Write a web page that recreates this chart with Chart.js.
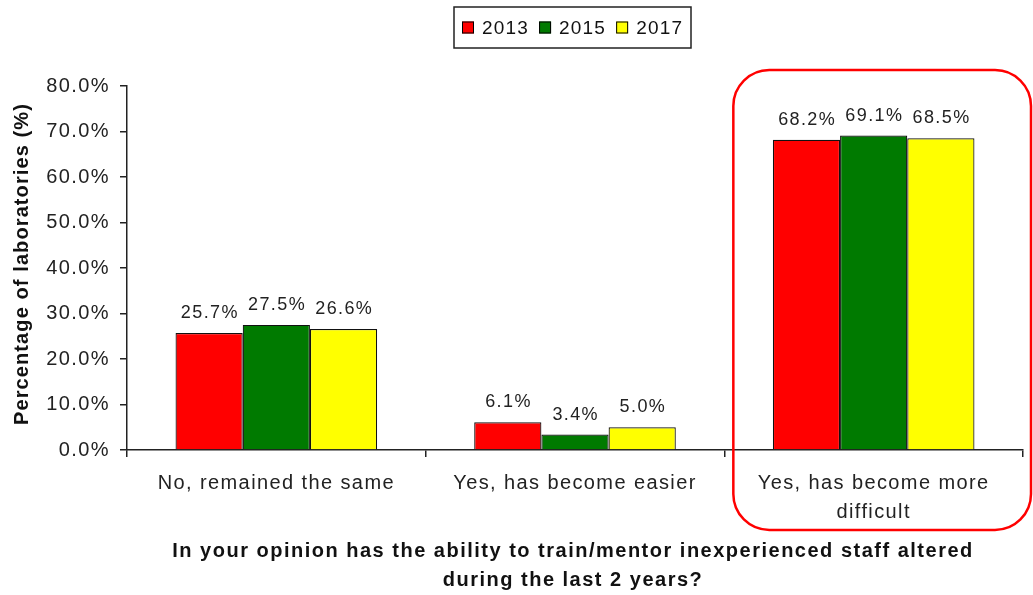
<!DOCTYPE html>
<html>
<head>
<meta charset="utf-8">
<script src="https://cdn.jsdelivr.net/npm/chart.js@4/dist/chart.umd.min.js"></script>
<style>
  html, body { margin: 0; padding: 0; background: #fff; }
  #wrap { width: 1033px; height: 595px; position: relative; }
</style>
</head>
<body>
<div id="wrap"><canvas id="c" width="1033" height="595"></canvas></div>
<script>
// Survey answers and yearly shares (percent of laboratories)
const categories = [
  "No, remained the same",
  "Yes, has become easier",
  ["Yes, has become more", "difficult"]
];
const years = ["2013", "2015", "2017"];
const values2013 = [25.7, 6.1, 68.2];
const values2015 = [27.5, 3.4, 69.1];
const values2017 = [26.6, 5.0, 68.5];
const seriesColors = ["#ff0000", "#007a00", "#ffff00"];
const yTitle = "Percentage of laboratories (%)";
const xTitleLines = [
  "In your opinion has the ability to train/mentor inexperienced staff altered",
  "during the last 2 years?"
];
const highlightIndex = 2;

const FONT = "Arial, 'Liberation Sans', sans-serif";
const AXIS_SPACING = "1.4px";

// Wide letter spacing for the axis tick text drawn by Chart.js
const spacing = {
  id: "spacing",
  beforeUpdate(chart) { chart.ctx.letterSpacing = AXIS_SPACING; },
  beforeDraw(chart) { chart.ctx.letterSpacing = AXIS_SPACING; }
};

// Value labels above each bar
const valueLabels = {
  id: "valueLabels",
  afterDatasetsDraw(chart) {
    const ctx = chart.ctx;
    ctx.save();
    ctx.letterSpacing = "1.4px";
    ctx.font = "18px " + FONT;
    ctx.fillStyle = "#222";
    ctx.textAlign = "center";
    ctx.textBaseline = "alphabetic";
    chart.data.datasets.forEach((ds, i) => {
      chart.getDatasetMeta(i).data.forEach((bar, j) => {
        ctx.fillText(ds.data[j].toFixed(1) + "%", bar.x + 0.7, bar.y - 15);
      });
    });
    ctx.restore();
  }
};

// Boxed legend, axis titles and the rounded highlight frame
const decorations = {
  id: "decorations",
  afterDraw(chart) {
    const ctx = chart.ctx;
    ctx.save();

    // legend
    ctx.letterSpacing = "1.2px";
    ctx.font = "19px " + FONT;
    ctx.textBaseline = "middle";
    ctx.textAlign = "left";
    const lx = 454, ly = 7, lw = 237, lh = 41;
    ctx.fillStyle = "#fff";
    ctx.fillRect(lx, ly, lw, lh);
    ctx.strokeStyle = "#222";
    ctx.lineWidth = 1.5;
    ctx.strokeRect(lx, ly, lw, lh);
    let x = lx + 8;
    const cy = ly + lh / 2;
    chart.data.datasets.forEach(ds => {
      ctx.fillStyle = ds.backgroundColor;
      ctx.fillRect(x, cy - 6, 12, 12);
      ctx.strokeStyle = "#000";
      ctx.lineWidth = 1;
      ctx.strokeRect(x + 0.5, cy - 5.5, 11, 11);
      ctx.fillStyle = "#111";
      ctx.fillText(ds.label, x + 20, cy + 1);
      x += 20 + ctx.measureText(ds.label).width + 10;
    });

    // y axis title
    ctx.letterSpacing = "1.1px";
    ctx.font = "bold 20px " + FONT;
    ctx.fillStyle = "#111";
    ctx.textAlign = "center";
    ctx.textBaseline = "middle";
    ctx.save();
    ctx.translate(22, 264);
    ctx.rotate(-Math.PI / 2);
    ctx.fillText(yTitle, 0, 0);
    ctx.restore();

    // x axis title
    ctx.letterSpacing = "1.5px";
    const cx = 573;
    ctx.fillText(xTitleLines[0], cx, 551);
    ctx.fillText(xTitleLines[1], cx, 580);

    // rounded frame around the highlighted category
    const xs = chart.scales.x;
    const step = (xs.right - xs.left) / categories.length;
    const fx = xs.left + step * highlightIndex + 9;
    const fy = 70, fw = 1031 - fx, fh = 460, r = 36;
    ctx.strokeStyle = "#ff0000";
    ctx.lineWidth = 2.5;
    ctx.beginPath();
    ctx.roundRect(fx, fy, fw, fh, r);
    ctx.stroke();

    ctx.restore();
  }
};

const datasets = [values2013, values2015, values2017].map((vals, i) => ({
  label: years[i],
  data: vals,
  backgroundColor: seriesColors[i],
  borderColor: "#111",
  borderWidth: 1.2,
  categoryPercentage: 0.675,
  barPercentage: 1.0
}));

new Chart(document.getElementById("c"), {
  type: "bar",
  data: { labels: categories, datasets },
  options: {
    responsive: false,
    animation: false,
    devicePixelRatio: 1,
    layout: { padding: { left: 0, top: 86, right: 10, bottom: 0 } },
    plugins: { legend: { display: false }, tooltip: { enabled: false } },
    scales: {
      y: {
        min: 0,
        max: 80,
        ticks: {
          stepSize: 10,
          color: "#222",
          font: { size: 20, family: FONT },
          padding: 10,
          callback: v => v.toFixed(1) + "%"
        },
        grid: { drawOnChartArea: false, drawTicks: true, tickLength: 7, color: "#222", lineWidth: 1.5 },
        border: { color: "#222", width: 1.5 },
        afterFit(scale) { scale.width = 127; }
      },
      x: {
        ticks: {
          color: "#222",
          font: { size: 20, family: FONT, lineHeight: 1.45 },
          padding: 12,
          maxRotation: 0,
          autoSkip: false
        },
        grid: { drawOnChartArea: false, drawTicks: true, tickLength: 7, color: "#222", lineWidth: 1.5, offset: true },
        border: { color: "#222", width: 1.5 },
        afterFit(scale) { scale.height = 145; }
      }
    }
  },
  plugins: [spacing, valueLabels, decorations]
});
</script>
</body>
</html>
